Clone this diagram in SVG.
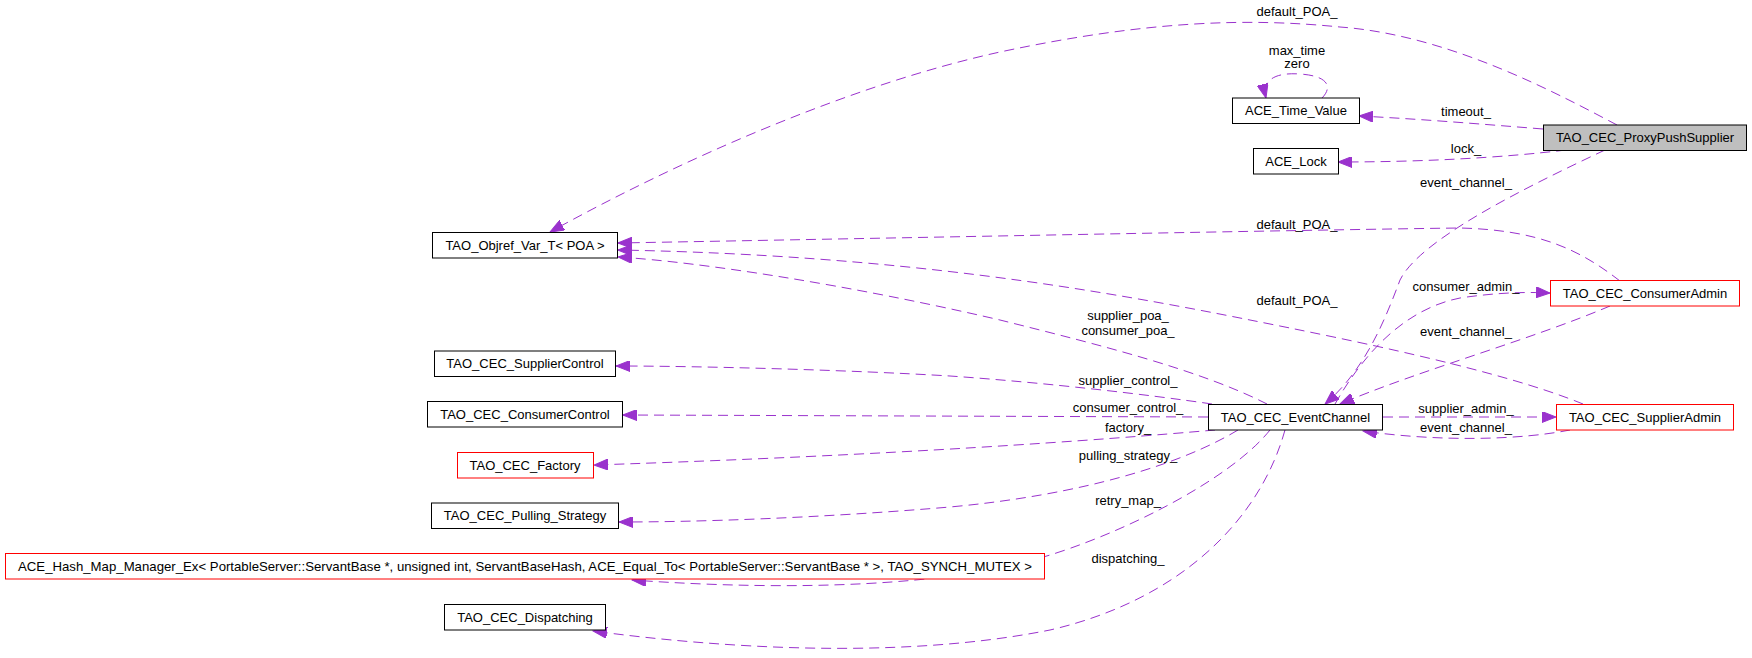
<svg xmlns="http://www.w3.org/2000/svg" width="1752" height="658" viewBox="0 0 1752 658">
<style>
.n rect{fill:#fff;stroke:#000;stroke-width:1}
.n.red rect{stroke:#ff0000}
.n.main rect{fill:#bfbfbf}
text{font-family:"Liberation Sans",Arial,Helvetica,sans-serif;font-size:13px;fill:#000;text-anchor:middle}
.e path{fill:none;stroke:#9a32cd;stroke-width:1;stroke-dasharray:10,6;marker-end:url(#ah)}
</style>
<defs>
<marker id="ah" markerUnits="userSpaceOnUse" markerWidth="15" markerHeight="11" refX="14" refY="5.5" orient="auto">
<path d="M0,0 L14,5.5 L0,11 z" fill="#9a32cd" stroke="#9a32cd" stroke-width="1"/>
</marker>
</defs>
<rect width="1752" height="658" fill="#fff"/>
<g id="edges" class="e">
<path d="M1617,125 C1560,95 1450,35 1340,27 C1250,18 1150,20 1000,52 C850,85 680,160 550,232"/>
<path d="M1543,129 C1480,124 1420,119 1359,116"/>
<path d="M1566,150 C1500,158 1420,162 1338,162"/>
<path d="M1605,150 C1520,190 1420,240 1400,280 C1385,320 1365,370 1325,404"/>
<path d="M1322,98 C1332,88 1330,76 1300,74 C1272,72 1262,82 1266,98"/>
<path d="M1620,281 C1580,250 1540,230 1460,228 C1300,230 900,238 618,243"/>
<path d="M1583,404 C1500,370 1350,340 1250,320 C1100,290 900,255 618,250"/>
<path d="M1267,404 C1200,370 1100,345 1000,320 C850,285 700,262 618,257"/>
<path d="M1212,404 C1150,395 1050,383 950,376 C850,370 700,366 616,366"/>
<path d="M1208,417 L623,415"/>
<path d="M1215,430 C1100,440 900,455 594,465"/>
<path d="M1238,430 C1180,465 1080,495 950,507 C820,518 700,522 619,522"/>
<path d="M1270,430 C1230,480 1120,535 1040,558 C950,585 800,592 632,580"/>
<path d="M1285,430 C1260,520 1180,600 1050,630 C900,660 720,648 593,631"/>
<path d="M1335,404 C1360,360 1400,310 1460,298 C1500,292 1530,292 1550,293"/>
<path d="M1610,306 C1530,340 1420,370 1340,404"/>
<path d="M1383,417 L1556,417"/>
<path d="M1570,430 C1520,440 1440,442 1363,431"/>
</g>
<g id="edge-labels">
<text x="1297" y="16">default_POA_</text>
<text x="1297" y="55">max_time</text>
<text x="1297" y="68">zero</text>
<text x="1466" y="116">timeout_</text>
<text x="1466" y="153">lock_</text>
<text x="1466" y="187">event_channel_</text>
<text x="1297" y="229">default_POA_</text>
<text x="1466" y="291">consumer_admin_</text>
<text x="1297" y="305">default_POA_</text>
<text x="1128" y="320">supplier_poa_</text>
<text x="1128" y="335">consumer_poa_</text>
<text x="1466" y="336">event_channel_</text>
<text x="1128" y="385">supplier_control_</text>
<text x="1128" y="412">consumer_control_</text>
<text x="1466" y="413">supplier_admin_</text>
<text x="1466" y="432">event_channel_</text>
<text x="1128" y="432">factory_</text>
<text x="1128" y="460">pulling_strategy_</text>
<text x="1128" y="505">retry_map_</text>
<text x="1128" y="563">dispatching_</text>
</g>
<g id="TAO_CEC_ProxyPushSupplier" class="n main"><rect x="1543.5" y="125" width="203" height="25.5"/><text x="1645" y="142.3">TAO_CEC_ProxyPushSupplier</text></g>
<g id="ACE_Time_Value" class="n"><rect x="1232.5" y="98" width="127" height="25.5"/><text x="1296" y="115.2">ACE_Time_Value</text></g>
<g id="ACE_Lock" class="n"><rect x="1253.5" y="148.5" width="85" height="25.5"/><text x="1296" y="165.7">ACE_Lock</text></g>
<g id="TAO_Objref_Var_T_POA" class="n"><rect x="432.5" y="232.5" width="185" height="25.5"/><text x="525" y="249.7">TAO_Objref_Var_T&lt; POA &gt;</text></g>
<g id="TAO_CEC_ConsumerAdmin" class="n red"><rect x="1550.5" y="280.5" width="189" height="25.5"/><text x="1645" y="297.7">TAO_CEC_ConsumerAdmin</text></g>
<g id="TAO_CEC_SupplierControl" class="n"><rect x="434.5" y="351" width="181" height="25.5"/><text x="525" y="368.2">TAO_CEC_SupplierControl</text></g>
<g id="TAO_CEC_ConsumerControl" class="n"><rect x="427.5" y="401.5" width="195" height="25.5"/><text x="525" y="418.7">TAO_CEC_ConsumerControl</text></g>
<g id="TAO_CEC_EventChannel" class="n"><rect x="1208.5" y="404.5" width="174" height="25.5"/><text x="1295.5" y="421.7">TAO_CEC_EventChannel</text></g>
<g id="TAO_CEC_SupplierAdmin" class="n red"><rect x="1556.5" y="404.5" width="177" height="25.5"/><text x="1645" y="421.7">TAO_CEC_SupplierAdmin</text></g>
<g id="TAO_CEC_Factory" class="n red"><rect x="457.5" y="452.5" width="136" height="25.5"/><text x="525" y="469.7">TAO_CEC_Factory</text></g>
<g id="TAO_CEC_Pulling_Strategy" class="n"><rect x="431.5" y="503" width="187" height="25.5"/><text x="525" y="520.2">TAO_CEC_Pulling_Strategy</text></g>
<g id="ACE_Hash_Map_Manager_Ex" class="n red"><rect x="5.5" y="553.5" width="1039" height="25.5"/><text x="525" y="570.7" textLength="1014" lengthAdjust="spacingAndGlyphs">ACE_Hash_Map_Manager_Ex&lt; PortableServer::ServantBase *, unsigned int, ServantBaseHash, ACE_Equal_To&lt; PortableServer::ServantBase * &gt;, TAO_SYNCH_MUTEX &gt;</text></g>
<g id="TAO_CEC_Dispatching" class="n"><rect x="444.5" y="604.5" width="161" height="25.5"/><text x="525" y="621.7">TAO_CEC_Dispatching</text></g>
</svg>
